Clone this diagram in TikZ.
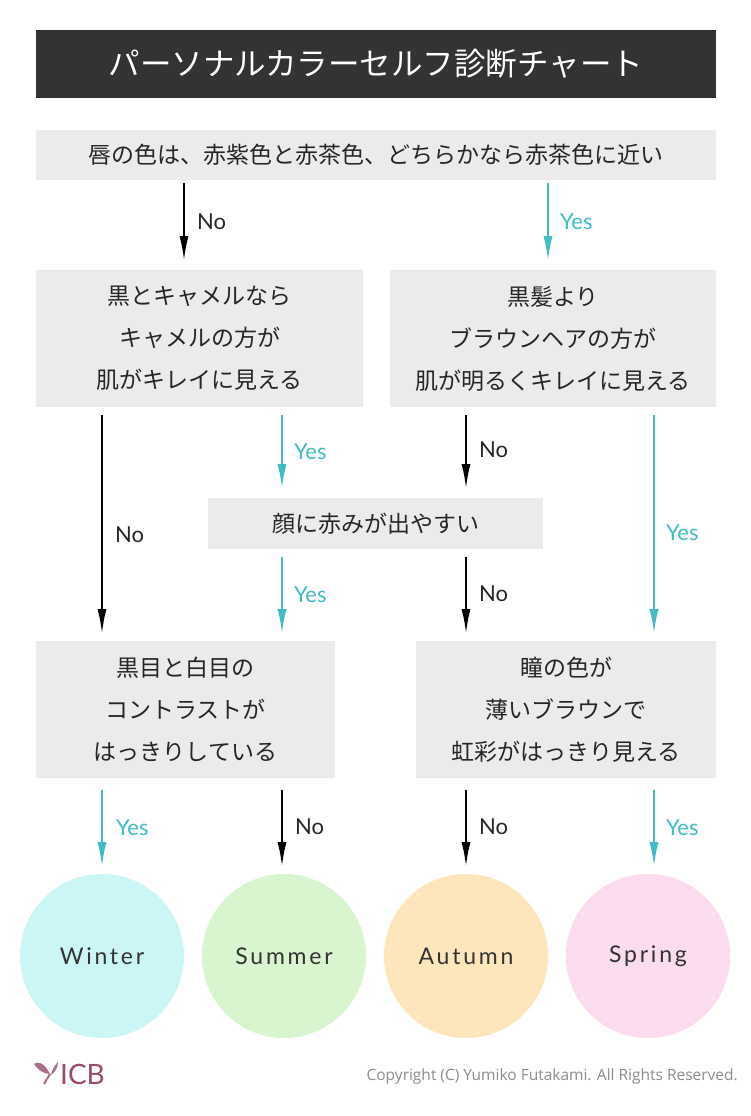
\documentclass[tikz,border=0pt]{standalone}
\usepackage{fontspec}
\setmainfont{Noto Sans CJK JP}
\newfontfamily\latfont{Lato}
\newfontfamily\seasonfont[LetterSpace=12]{Lato}
\usetikzlibrary{arrows.meta}
\definecolor{titlegray}{HTML}{333333}
\definecolor{boxgray}{HTML}{EBEBED}
\definecolor{yesteal}{HTML}{3FBCC4}
\definecolor{wintc}{HTML}{CCF6F6}
\definecolor{summc}{HTML}{D9F5D0}
\definecolor{autuc}{HTML}{FDE6BB}
\definecolor{sprc}{HTML}{FADCEE}
\definecolor{logoc}{HTML}{9A4A6E}
\tikzset{
  qbox/.style={fill=boxgray,inner sep=0pt,font=\fontsize{23}{42}\selectfont,align=center,text=black!85},
  noarr/.style={-{Latex[length=24pt,width=9pt]},line width=1.6pt,black},
  yesarr/.style={-{Latex[length=24pt,width=9pt]},line width=1.6pt,yesteal},
  nolab/.style={font=\latfont\fontsize{22}{22}\selectfont,text=black!85,anchor=west},
  yeslab/.style={font=\latfont\fontsize{22}{22}\selectfont,text=yesteal,anchor=west},
  season/.style={circle,minimum size=164pt,inner sep=0pt,font=\seasonfont\fontsize{23}{23}\selectfont,text=black!80}
}
\begin{document}
\begin{tikzpicture}[x=1pt,y=-1pt]
\useasboundingbox[fill=white] (0,0) rectangle (750,1116);
% title
\node[fill=titlegray,minimum width=680pt,minimum height=68pt,inner sep=0pt,text=white,font=\fontsize{31.5}{31.5}\selectfont] (title) at (376,64) {パーソナルカラーセルフ診断チャート};
% questions
\node[qbox,minimum width=680pt,minimum height=50pt] (q1) at (376,155) {唇の色は、赤紫色と赤茶色、どちらかなら赤茶色に近い};
\node[qbox,minimum width=327pt,minimum height=137pt] (q2l) at (199.5,338.5) {黒とキャメルなら\\キャメルの方が\\肌がキレイに見える};
\node[qbox,minimum width=326pt,minimum height=137pt] (q2r) at (553,338.5) {黒髪より\\ブラウンヘアの方が\\肌が明るくキレイに見える};
\node[qbox,minimum width=335pt,minimum height=51pt] (q3) at (375.5,523.5) {顔に赤みが出やすい};
\node[qbox,minimum width=299pt,minimum height=137pt] (q4l) at (185.5,709.5) {黒目と白目の\\コントラストが\\はっきりしている};
\node[qbox,minimum width=300pt,minimum height=137pt] (q4r) at (566,709.5) {瞳の色が\\薄いブラウンで\\虹彩がはっきり見える};
% results
\node[season,fill=wintc] (win) at (102,956) {Winter};
\node[season,fill=summc] (sum) at (284,956) {Summer};
\node[season,fill=autuc] (aut) at (466,956) {Autumn};
\node[season,fill=sprc] (spr) at (648,956) {Spring};
% arrow ends
\foreach \n/\x/\a/\b in {a/184/183/260, b/548/183/260, c/102/415/633, d/282/415/488,
  e/466/415/488, f/654/415/633, g/282/557/633, h/466/557/633,
  i/102/790/866, j/282/790/866, k/466/790/866, l/654/790/866}{
  \coordinate (\n1) at (\x,\a);
  \coordinate (\n2) at (\x,\b);
}
\draw[noarr] (a1) -- (a2) node[nolab,pos=0.5,xshift=9pt] {No};
\draw[yesarr] (b1) -- (b2) node[yeslab,pos=0.5,xshift=8pt] {Yes};
\draw[noarr] (c1) -- (c2) node[nolab,pos=0.55,xshift=9pt] {No};
\draw[yesarr] (d1) -- (d2) node[yeslab,pos=0.5,xshift=8pt] {Yes};
\draw[noarr] (e1) -- (e2) node[nolab,pos=0.48,xshift=9pt] {No};
\draw[yesarr] (f1) -- (f2) node[yeslab,pos=0.54,xshift=8pt] {Yes};
\draw[yesarr] (g1) -- (g2) node[yeslab,pos=0.5,xshift=8pt] {Yes};
\draw[noarr] (h1) -- (h2) node[nolab,pos=0.48,xshift=9pt] {No};
\draw[yesarr] (i1) -- (i2) node[yeslab,pos=0.5,xshift=10pt] {Yes};
\draw[noarr] (j1) -- (j2) node[nolab,pos=0.48,xshift=9pt] {No};
\draw[noarr] (k1) -- (k2) node[nolab,pos=0.48,xshift=9pt] {No};
\draw[yesarr] (l1) -- (l2) node[yeslab,pos=0.5,xshift=8pt] {Yes};
% footer
\fill[logoc!80] (34,1064) .. controls (40,1060) and (46,1066) .. (50,1074) .. controls (44,1074) and (38,1070) .. (34,1064);
\fill[logoc!80] (58,1062) .. controls (54,1066) and (52,1070) .. (51,1075) .. controls (55,1072) and (58,1068) .. (58,1062);
\draw[logoc!80,line width=2pt] (50,1074) -- (44,1084);
\node[font=\latfont\fontsize{28}{28}\selectfont,text=logoc,anchor=west,inner sep=0pt] (logo) at (60,1074) {ICB};
\node[font=\fontspec{Open Sans}\fontsize{15.5}{15.5}\selectfont,text=black!45,anchor=east,inner sep=0pt] (copy) at (738,1076) {Copyright (C) Yumiko Futakami. All Rights Reserved.};
\end{tikzpicture}
\end{document}
